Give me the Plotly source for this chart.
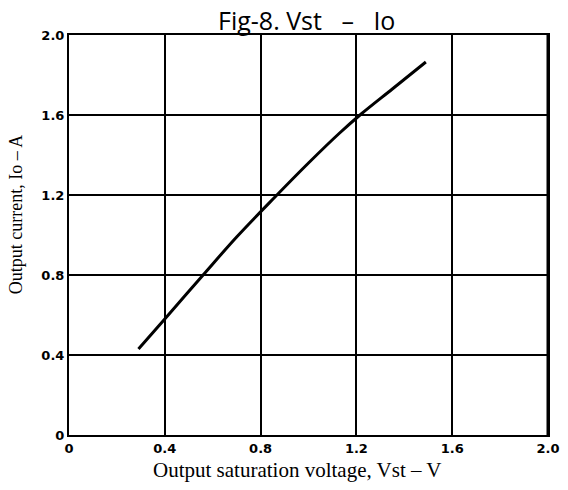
import plotly.graph_objects as go

# Data
vst = [0.29, 0.40, 0.56, 0.70, 0.86, 1.00, 1.13, 1.22, 1.35, 1.49]
io = [0.43, 0.58, 0.80, 0.99, 1.19, 1.36, 1.51, 1.605, 1.73, 1.865]

x_ticks = [0, 0.4, 0.8, 1.2, 1.6, 2.0]
x_tick_labels = ["0", "0.4", "0.8", "1.2", "1.6", "2.0"]
y_ticks = [0, 0.4, 0.8, 1.2, 1.6, 2.0]
y_tick_labels = ["0", "0.4", "0.8", "1.2", "1.6", "2.0"]

fig = go.Figure()
fig.add_trace(go.Scatter(
    x=vst, y=io, mode="lines",
    line=dict(color="black", width=3, shape="spline", smoothing=1.0),
    showlegend=False, hoverinfo="skip",
))

tick_font = dict(family="DejaVu Sans", size=13, color="black", weight="bold")
axis_common = dict(
    showgrid=True, gridcolor="black", gridwidth=1.6,
    showline=True, linecolor="black", linewidth=2, mirror=True,
    zeroline=False, ticks="", tickfont=tick_font, ticklabeloverflow="allow",
)

NB = "\u00a0"
title_text = "Fig-8." + NB + "Vst" + NB * 3 + "\u2013" + NB * 3 + "Io"

fig.update_layout(
    width=568, height=490,
    margin=dict(l=69, r=8, t=35, b=55),
    paper_bgcolor="white", plot_bgcolor="white",
    xaxis=dict(range=[0, 2.0], tickvals=x_ticks, ticktext=x_tick_labels, **axis_common),
    yaxis=dict(range=[0, 2.0], tickvals=y_ticks, ticktext=y_tick_labels, **axis_common),
    shapes=[
        dict(type="line", xref="paper", yref="paper", x0=1, x1=1, y0=0, y1=1,
             line=dict(color="black", width=3)),
    ],
    annotations=[
        dict(text=title_text, x=0.495, y=1.085, xref="paper", yref="paper",
             yanchor="top", xanchor="center", showarrow=False,
             font=dict(family="Open Sans", size=25, color="black")),
        dict(text="Output saturation voltage, Vst \u2013 V", x=0.477, y=-0.0875,
             xref="paper", yref="paper", xanchor="center", yanchor="middle",
             showarrow=False, font=dict(family="Liberation Serif", size=21, color="black")),
        dict(text="Output current, Io \u2013 A", x=-0.11, y=0.55, xref="paper", yref="paper",
             xanchor="center", yanchor="middle", textangle=-90, showarrow=False,
             font=dict(family="Liberation Serif", size=18, color="black")),
    ],
)

fig.write_html("out.html", config={"displayModeBar": False},
               post_script="document.body.style.margin='0';")
